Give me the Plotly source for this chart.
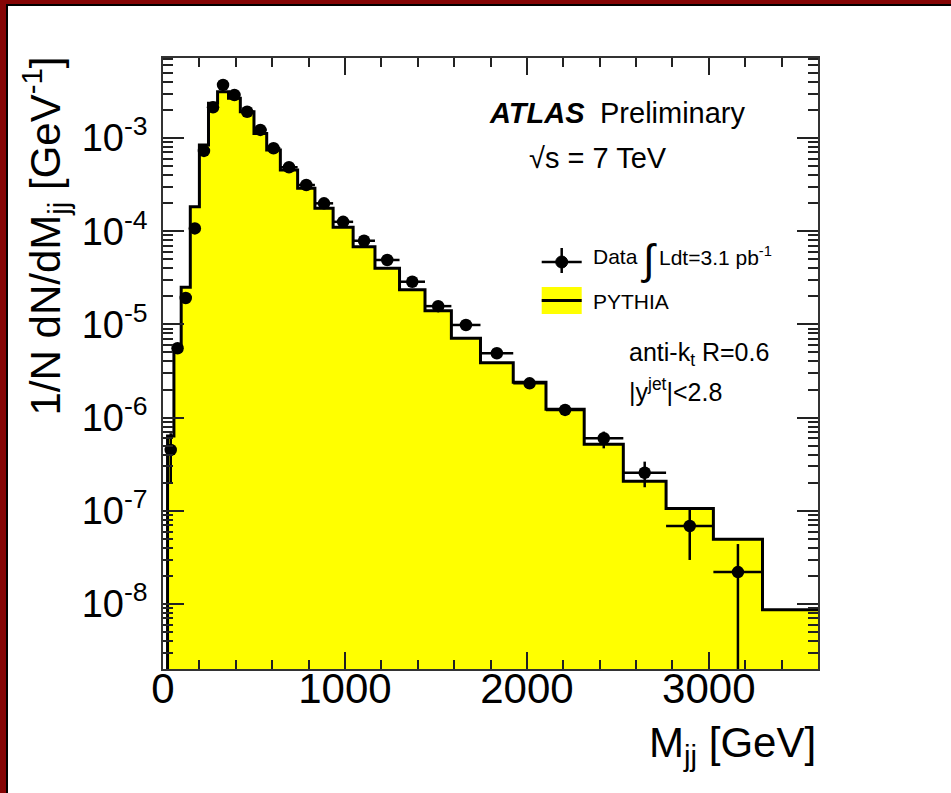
import plotly.graph_objects as go

# Dijet mass binning [GeV] and normalised distributions 1/N dN/dMjj [GeV^-1]
bin_edges = [25, 60, 100, 150, 200, 250, 300, 360, 425, 500, 570, 645, 740, 835,
             935, 1045, 1165, 1300, 1440, 1585, 1745, 1925, 2105, 2315, 2530,
             2765, 3025, 3295, 3700]

pythia = [6.35e-7, 5.55e-6, 2.51e-5, 1.83e-4, 8.41e-4, 2.36e-3, 3.14e-3, 2.67e-3,
          1.91e-3, 1.12e-3, 7.43e-4, 4.54e-4, 2.89e-4, 1.76e-4, 1.10e-4, 6.82e-5,
          4.0e-5, 2.36e-5, 1.40e-5, 7.1e-6, 3.88e-6, 2.39e-6, 1.23e-6, 5.19e-7,
          2.07e-7, 1.06e-7, 4.95e-8, 8.7e-9]

data = [4.5e-7, 5.55e-6, 1.92e-5, 1.07e-4, 7.26e-4, 2.13e-3, 3.71e-3, 2.89e-3,
        1.91e-3, 1.22e-3, 7.75e-4, 4.85e-4, 3.13e-4, 1.99e-4, 1.26e-4, 7.9e-5,
        4.91e-5, 2.87e-5, 1.57e-5, 9.86e-6, 4.9e-6, 2.33e-6, 1.21e-6, 6.0e-7,
        2.56e-7, 6.87e-8, 2.2e-8]

data_err_up = [2.3e-7, 3.0e-7, 8.0e-7, 3.0e-6, 1.2e-5, 2.5e-5, 3.5e-5, 2.8e-5,
               2.0e-5, 1.4e-5, 1.0e-5, 7.0e-6, 5.0e-6, 3.5e-6, 2.5e-6, 1.8e-6,
               1.2e-6, 8.0e-7, 5.0e-7, 3.5e-7, 2.2e-7, 1.4e-7, 1.0e-7, 1.08e-7,
               8.1e-8, 3.7e-8, 2.2e-8]

data_err_dn = [2.5e-7, 3.0e-7, 8.0e-7, 3.0e-6, 1.2e-5, 2.5e-5, 3.5e-5, 2.8e-5,
               2.0e-5, 1.4e-5, 1.0e-5, 7.0e-6, 5.0e-6, 3.5e-6, 2.5e-6, 1.8e-6,
               1.2e-6, 8.0e-7, 5.0e-7, 3.5e-7, 2.2e-7, 1.4e-7, 1.0e-7, 1.32e-7,
               7.7e-8, 3.9e-8, 2.19e-8]

y_tick_vals = [1e-8, 1e-7, 1e-6, 1e-5, 1e-4, 1e-3]
y_tick_text = ["10<sup>-8</sup>", "10<sup>-7</sup>", "10<sup>-6</sup>",
               "10<sup>-5</sup>", "10<sup>-4</sup>", "10<sup>-3</sup>"]

FONT = "Liberation Sans, Arial, Helvetica, sans-serif"
W, H = 951, 793
ML, MR, MT, MB = 163, 133, 58, 124
PW, PH = W - ML - MR, H - MT - MB


def px(x):
    """Horizontal pixel position -> paper coordinate."""
    return (x - ML) / PW


def py(y):
    """Vertical pixel position (from top) -> paper coordinate."""
    return (H - MB - y) / PH


# Histogram outline as a closed step polygon
floor = 1e-12
step_x = [bin_edges[0]]
step_y = [floor]
for i, v in enumerate(pythia):
    step_x += [bin_edges[i], bin_edges[i + 1]]
    step_y += [v, v]
step_x.append(bin_edges[-1])
step_y.append(floor)

n_data = len(data)
centers = [(a + b) / 2 for a, b in zip(bin_edges[:n_data], bin_edges[1:n_data + 1])]
half_widths = [(b - a) / 2 for a, b in zip(bin_edges[:n_data], bin_edges[1:n_data + 1])]

fig = go.Figure()
fig.add_trace(go.Scatter(
    x=step_x, y=step_y, mode="lines", fill="toself", fillcolor="#ffff00",
    line=dict(color="black", width=3), hoverinfo="skip", showlegend=False,
))
fig.add_trace(go.Scatter(
    x=centers, y=data, mode="markers",
    marker=dict(color="black", size=12.5),
    error_x=dict(type="data", array=half_widths, color="black", thickness=2.5, width=0),
    error_y=dict(type="data", symmetric=False, array=data_err_up, arrayminus=data_err_dn,
                 color="black", thickness=2.5, width=0),
    showlegend=False,
))

axis_common = dict(
    showgrid=False, zeroline=False, showline=True, linecolor="#333", linewidth=1.5,
    mirror="allticks", ticks="inside", tickcolor="#222", tickwidth=1.5,
)

fig.update_xaxes(
    range=[0, 3600], tickmode="linear", tick0=0, dtick=1000, ticklen=17,
    ticklabelstandoff=-18,
    tickfont=dict(family=FONT, size=42, color="black"),
    minor=dict(dtick=200, ticklen=9, ticks="inside", tickcolor="#222", tickwidth=1.5),
    **axis_common,
)
fig.update_yaxes(
    type="log", range=[-8.697, -2.142], tickmode="array",
    tickvals=y_tick_vals, ticktext=y_tick_text, ticklen=21, ticklabelstandoff=6,
    tickfont=dict(family=FONT, size=38, color="black"),
    minor=dict(dtick="D1", ticklen=10, ticks="inside", tickcolor="#222", tickwidth=1.5),
    **axis_common,
)

ann = []


def text(x, y, s, size, xanchor="left", yanchor="middle", angle=0):
    ann.append(dict(x=px(x), y=py(y), xref="paper", yref="paper", text=s,
                    showarrow=False, xanchor=xanchor, yanchor=yanchor,
                    textangle=angle, font=dict(family=FONT, size=size, color="black")))


text(818, 746, "M<sub>jj</sub> [GeV]", 42, xanchor="right")
text(45, 55, "1/N dN/dM<sub>jj</sub> [GeV<sup>-1</sup>]", 42, xanchor="center",
     yanchor="top", angle=-90)
text(487, 113, "<b><i>ATLAS</i></b>", 29)
text(598, 113, "Preliminary", 29)
text(527, 158, "\u221As = 7 TeV", 29)
text(591, 256, "Data", 21)
text(639, 259, "\u222B", 42)
text(657, 256, "Ldt=3.1 pb<sup>-1</sup>", 21)
text(591, 301, "PYTHIA", 21)
text(627, 354, "anti-k<sub>t</sub> R=0.6", 25)
text(627, 390, "|y<sup>jet</sup>|&lt;2.8", 25)

shapes = []
# Legend glyphs
shapes.append(dict(type="rect", xref="paper", yref="paper", x0=px(541.7), x1=px(581.7),
                   y0=py(314), y1=py(287), fillcolor="#ffff00", line=dict(width=0)))
shapes.append(dict(type="line", xref="paper", yref="paper", x0=px(541.7), x1=px(581.7),
                   y0=py(300.5), y1=py(300.5), line=dict(color="black", width=3)))
shapes.append(dict(type="line", xref="paper", yref="paper", x0=px(541.7), x1=px(581.7),
                   y0=py(262), y1=py(262), line=dict(color="black", width=2.5)))
shapes.append(dict(type="line", xref="paper", yref="paper", x0=px(561.7), x1=px(561.7),
                   y0=py(248), y1=py(273), line=dict(color="black", width=2.5)))
shapes.append(dict(type="circle", xref="paper", yref="paper", x0=px(555.7), x1=px(567.7),
                   y0=py(268), y1=py(256), fillcolor="black", line=dict(color="black", width=1)))
# Page frame: dark red bands with black inner edges on the left and top
shapes.append(dict(type="rect", xref="paper", yref="paper", x0=px(0), x1=px(6),
                   y0=py(H), y1=py(0), fillcolor="#850505", line=dict(width=0), layer="above"))
shapes.append(dict(type="rect", xref="paper", yref="paper", x0=px(6), x1=px(8),
                   y0=py(H), y1=py(5), fillcolor="black", line=dict(width=0), layer="above"))
shapes.append(dict(type="rect", xref="paper", yref="paper", x0=px(0), x1=px(W),
                   y0=py(4), y1=py(0), fillcolor="#850505", line=dict(width=0), layer="above"))
shapes.append(dict(type="rect", xref="paper", yref="paper", x0=px(6), x1=px(W),
                   y0=py(6), y1=py(4), fillcolor="black", line=dict(width=0), layer="above"))

fig.update_layout(
    width=W, height=H, margin=dict(l=ML, r=MR, t=MT, b=MB),
    paper_bgcolor="white", plot_bgcolor="white",
    font=dict(family=FONT, color="black"),
    annotations=ann, shapes=shapes, showlegend=False,
)

fig.write_html("out.html")
